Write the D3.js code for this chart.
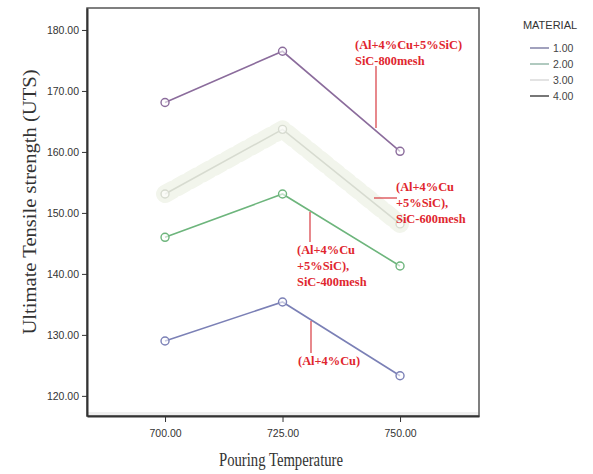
<!DOCTYPE html>
<html>
<head>
<meta charset="utf-8">
<script src="https://cdnjs.cloudflare.com/ajax/libs/d3/7.8.5/d3.min.js"></script>
<style>
body { margin: 0; background: #fff; }
svg { display: block; }
.tick text { font: 10.5px "Liberation Sans", Arial, sans-serif; fill: #333; }
.note { font: bold 12.4px "Liberation Serif", "Times New Roman", serif; fill: #e0262e; }
</style>
</head>
<body>
<script>

// pouring temperatures and UTS per material
var temps = [700, 725, 750];
var materials = ["1.00", "2.00", "3.00", "4.00"];
var uts1 = [129.0, 135.4, 123.3];   // Al+4%Cu
var uts2 = [146.0, 153.1, 141.3];   // 400 mesh
var uts3 = [153.1, 163.7, 148.2];   // 600 mesh
var uts4 = [168.1, 176.5, 160.1];   // 800 mesh
var yTicks = [120, 130, 140, 150, 160, 170, 180];

var lineColors = ["#7b80b6", "#6db57c", "#d7dbd0", "#8b6c9c"];
var legendColors = ["#8a8aac", "#9dbdb0", "#dcdcdc", "#555555"];

var W = 593, H = 474;
var box = {left: 87, right: 479, top: 8, bottom: 416};

var svg = d3.select("body").append("svg").attr("width", W).attr("height", H);

var x = d3.scaleLinear().domain([683.4, 766.8]).range([box.left, box.right]);
var y = d3.scaleLinear().domain([116.7, 183.6]).range([box.bottom, box.top]);

// frame
svg.append("rect")
  .attr("x", box.left).attr("y", box.top)
  .attr("width", box.right - box.left).attr("height", box.bottom - box.top)
  .attr("fill", "#fff").attr("stroke", "#555").attr("stroke-width", 1.5);
svg.append("rect")
  .attr("x", box.left + 1).attr("y", box.bottom - 4)
  .attr("width", box.right - box.left - 2).attr("height", 3)
  .attr("fill", "#efefef");

var yAxis = svg.append("g")
  .attr("transform", "translate(" + box.left + ",0)")
  .call(d3.axisLeft(y).tickValues(yTicks).tickSize(5).tickSizeOuter(0).tickFormat(d3.format(".2f")));
var xAxis = svg.append("g")
  .attr("transform", "translate(0," + box.bottom + ")")
  .call(d3.axisBottom(x).tickValues(temps).tickSize(6).tickSizeOuter(0).tickFormat(d3.format(".2f")));
[yAxis, xAxis].forEach(function(a) {
  a.select(".domain").attr("stroke", "#333").attr("stroke-width", 2);
  a.selectAll(".tick line").attr("stroke", "#333");
});
xAxis.selectAll(".tick text").attr("dy", "1.1em");

// axis titles
svg.append("text")
  .attr("transform", "translate(36,202) rotate(-90)")
  .attr("text-anchor", "middle")
  .attr("textLength", 265).attr("lengthAdjust", "spacingAndGlyphs")
  .style("font", "19px 'Liberation Serif', 'Times New Roman', serif").style("fill", "#333")
  .text("Ultimate Tensile strength (UTS)");
svg.append("text")
  .attr("x", 281).attr("y", 466)
  .attr("text-anchor", "middle")
  .attr("textLength", 124).attr("lengthAdjust", "spacingAndGlyphs")
  .style("font", "19px 'Liberation Serif', 'Times New Roman', serif").style("fill", "#333")
  .text("Pouring Temperature");

// series
var series = [uts1, uts2, uts3, uts4];
var line = d3.line().x(function(d, i) { return x(temps[i]); }).y(function(d) { return y(d); });

// faint smudge around the light series
svg.append("path").datum(uts3).attr("d", line)
  .attr("fill", "none").attr("stroke", "#f2f5ec").attr("stroke-width", 18)
  .attr("stroke-dasharray", "9 5")
  .attr("stroke-linejoin", "round").attr("stroke-linecap", "round");

series.forEach(function(s, k) {
  svg.append("path").datum(s).attr("d", line)
    .attr("fill", "none").attr("stroke", lineColors[k]).attr("stroke-width", 1.6);
  svg.selectAll(null).data(s).enter().append("circle")
    .attr("cx", function(d, i) { return x(temps[i]); })
    .attr("cy", function(d) { return y(d); })
    .attr("r", 4)
    .attr("fill", "#fff").attr("fill-opacity", 0.6)
    .attr("stroke", lineColors[k]).attr("stroke-width", 1.4);
});

// annotations
var notes = [
  {lines: ["(Al+4%Cu+5%SiC)", "SiC-800mesh"], x: 355, y: 49, lead: [[376, 66], [376, 128]]},
  {lines: ["(Al+4%Cu", "+5%SiC),", "SiC-600mesh"], x: 396, y: 191, lead: [[374, 198], [397, 198]]},
  {lines: ["(Al+4%Cu", "+5%SiC),", "SiC-400mesh"], x: 297, y: 254, lead: [[310, 212], [310, 242]]},
  {lines: ["(Al+4%Cu)"], x: 298, y: 365, lead: [[311, 321], [311, 353]]}
];
notes.forEach(function(n) {
  var t = svg.append("text").attr("class", "note").attr("x", n.x).attr("y", n.y);
  n.lines.forEach(function(l, i) {
    t.append("tspan").attr("x", n.x).attr("dy", i ? 16 : 0).text(l);
  });
  svg.append("line")
    .attr("x1", n.lead[0][0]).attr("y1", n.lead[0][1])
    .attr("x2", n.lead[1][0]).attr("y2", n.lead[1][1])
    .attr("stroke", "#d83a40").attr("stroke-width", 1.2);
});

// legend
svg.append("text")
  .attr("x", 550).attr("y", 29).attr("text-anchor", "middle")
  .style("font", "11px 'Liberation Sans', Arial, sans-serif").style("fill", "#333")
  .text("MATERIAL");
var lg = svg.selectAll(".lg").data(materials).enter().append("g")
  .attr("transform", function(d, i) { return "translate(530," + (48 + i * 16) + ")"; });
lg.append("line").attr("x1", 0).attr("x2", 19)
  .attr("stroke", function(d, i) { return legendColors[i]; }).attr("stroke-width", 1.6);
lg.append("text").attr("x", 23).attr("y", 4)
  .style("font", "10.5px 'Liberation Sans', Arial, sans-serif").style("fill", "#444")
  .text(function(d) { return d; });

</script>
</body>
</html>
